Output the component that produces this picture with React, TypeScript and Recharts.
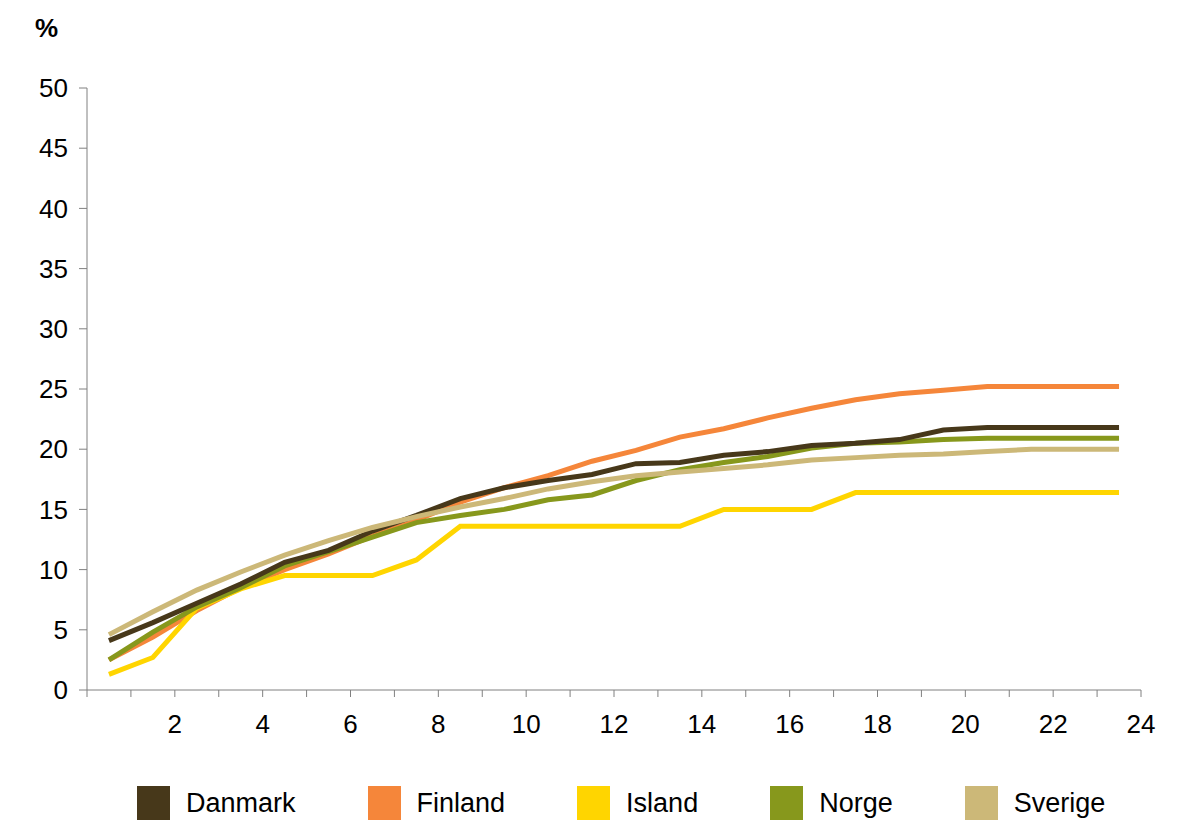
import { LineChart, Line, XAxis, YAxis, Label } from 'recharts';

const periods = [1, 2, 3, 4, 5, 6, 7, 8, 9, 10, 11, 12, 13, 14, 15, 16, 17, 18, 19, 20, 21, 22, 23, 24];

const danmark = [4.1, 5.6, 7.2, 8.8, 10.6, 11.6, 13.2, 14.5, 15.9, 16.8, 17.4, 17.9, 18.8, 18.9, 19.5, 19.8, 20.3, 20.5, 20.8, 21.6, 21.8, 21.8, 21.8, 21.8];
const finland = [2.5, 4.4, 6.6, 8.5, 10.0, 11.3, 12.8, 14.1, 15.6, 16.8, 17.8, 19.0, 19.9, 21.0, 21.7, 22.6, 23.4, 24.1, 24.6, 24.9, 25.2, 25.2, 25.2, 25.2];
const island = [1.3, 2.7, 6.8, 8.4, 9.5, 9.5, 9.5, 10.8, 13.6, 13.6, 13.6, 13.6, 13.6, 13.6, 15.0, 15.0, 15.0, 16.4, 16.4, 16.4, 16.4, 16.4, 16.4, 16.4];
const norge = [2.5, 4.8, 6.9, 8.5, 10.3, 11.5, 12.7, 13.9, 14.5, 15.0, 15.8, 16.2, 17.4, 18.3, 18.9, 19.4, 20.1, 20.5, 20.6, 20.8, 20.9, 20.9, 20.9, 20.9];
const sverige = [4.6, 6.5, 8.3, 9.8, 11.2, 12.4, 13.5, 14.4, 15.2, 15.9, 16.7, 17.3, 17.8, 18.1, 18.4, 18.7, 19.1, 19.3, 19.5, 19.6, 19.8, 20.0, 20.0, 20.0];

const xTicks = [0, 1, 2, 3, 4, 5, 6, 7, 8, 9, 10, 11, 12, 13, 14, 15, 16, 17, 18, 19, 20, 21, 22, 23, 24];
const yTicks = [0, 5, 10, 15, 20, 25, 30, 35, 40, 45, 50];

const series = [
  { key: 'Danmark', values: danmark, color: '#47381A' },
  { key: 'Finland', values: finland, color: '#F5863A' },
  { key: 'Island', values: island, color: '#FFD500' },
  { key: 'Norge', values: norge, color: '#87981C' },
  { key: 'Sverige', values: sverige, color: '#CCB878' },
];

// draw order: later ones end up on top
const drawOrder = ['Finland', 'Island', 'Norge', 'Danmark', 'Sverige'];

const FONT = '"Liberation Sans", Arial, sans-serif';

export default function App() {
  // points sit in the middle of each category
  const data = periods.map((p, i) => {
    const row: Record<string, number> = { x: p - 0.5 };
    series.forEach((s) => {
      row[s.key] = s.values[i];
    });
    return row;
  });

  const tickStyle = { fontSize: 26, fill: '#000', fontFamily: FONT };

  return (
    <div style={{ fontFamily: FONT, width: 1172 }}>
      <LineChart width={1172} height={730} data={data} margin={{ top: 80, right: 39, left: 0, bottom: 0 }}>
        <XAxis
          dataKey="x"
          type="number"
          domain={[0, 24]}
          ticks={xTicks}
          interval={0}
          height={48}
          tickSize={7}
          tickMargin={18}
          tick={tickStyle}
          tickFormatter={(v) => (v > 0 && v % 2 === 0 ? String(v) : '')}
          stroke="#808080"
          axisLine={{ stroke: '#808080' }}
          tickLine={{ stroke: '#808080' }}
        />
        <YAxis
          type="number"
          domain={[0, 50]}
          ticks={yTicks}
          interval={0}
          width={79}
          tickSize={8}
          tickMargin={11}
          tick={tickStyle}
          stroke="#808080"
        >
          <Label
            content={() => (
              <text x={27} y={29} fontSize={26} fontWeight="bold" fontFamily={FONT} fill="#000">
                %
              </text>
            )}
          />
        </YAxis>
        {drawOrder.map((k) => {
          const s = series.find((d) => d.key === k)!;
          return (
            <Line
              key={k}
              dataKey={k}
              type="linear"
              stroke={s.color}
              strokeWidth={5}
              dot={false}
              activeDot={false}
              isAnimationActive={false}
            />
          );
        })}
      </LineChart>
      <div style={{ display: 'flex', alignItems: 'center', marginTop: 48, paddingLeft: 129, gap: 72 }}>
        {series.map((s) => (
          <div key={s.key} style={{ display: 'flex', alignItems: 'center' }}>
            <div style={{ width: 33, height: 34, background: s.color, marginRight: 16 }} />
            <span style={{ fontSize: 27, color: '#000' }}>{s.key}</span>
          </div>
        ))}
      </div>
    </div>
  );
}
